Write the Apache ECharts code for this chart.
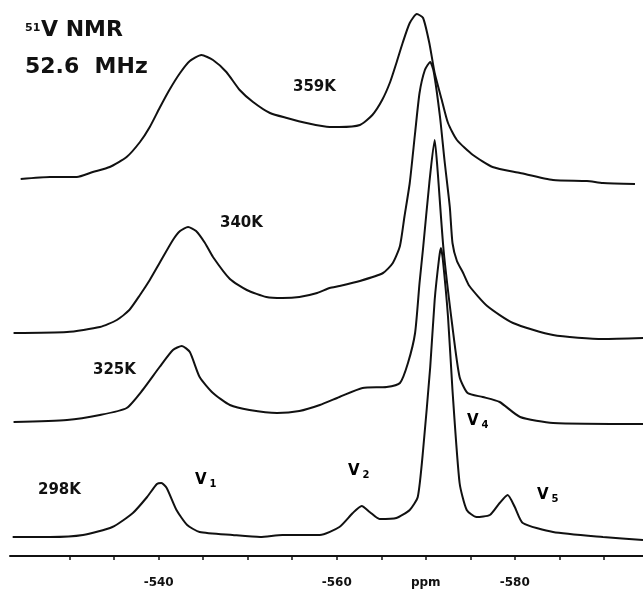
<!DOCTYPE html>
<html>
<head>
<meta charset="utf-8">
<title>51V NMR</title>
<script src="https://cdn.jsdelivr.net/npm/echarts@6/dist/echarts.min.js"></script>
<style>
  html, body { margin: 0; padding: 0; background: #fff; }
  #chart { width: 643px; height: 592px; }
</style>
</head>
<body>
<div id="chart"></div>
<script>
// chemical shift (ppm) and trace height (stacked, in plot units)
const ppm359 = [-524.5, -527.8, -530.8, -532.6, -534.5, -536.4, -537.9, -539.0, -540.1, -541.2, -542.4, -543.5, -544.8, -546.1, -547.6, -549.1, -550.6, -552.5, -554.4, -556.6, -559.2, -560.3, -562.6, -564.0, -565.1, -566.0, -566.7, -567.4, -568.2, -569.0, -569.7, -570.4, -571.0, -571.8, -572.5, -573.5, -575.3, -577.5, -580.6, -584.3, -588.1, -589.9, -593.5]
const val359 = [377, 379, 379, 384, 389, 399, 414, 429, 448, 466, 483, 495, 501, 496, 484, 466, 454, 443, 438, 433, 429, 429, 431, 441, 456, 474, 493, 513, 533, 542, 538, 513, 483, 456, 433, 416, 401, 389, 383, 376, 375, 373, 372]

const ppm340 = [-523.7, -529.7, -533.4, -535.3, -536.7, -537.9, -539.0, -540.1, -541.6, -542.4, -543.3, -544.2, -545.2, -546.1, -548.0, -549.9, -552.1, -553.9, -555.8, -557.8, -559.2, -560.3, -562.6, -565.2, -566.3, -567.1, -567.6, -568.2, -568.8, -569.3, -569.9, -570.5, -570.9, -571.6, -572.1, -572.7, -573.0, -573.5, -574.2, -574.9, -576.9, -579.8, -584.3, -589.9, -594.4]
const val340 = [223, 224, 229, 236, 246, 261, 276, 293, 316, 325, 329, 325, 313, 299, 277, 266, 259, 258, 259, 263, 268, 270, 275, 283, 293, 310, 339, 373, 423, 463, 486, 494, 484, 439, 396, 349, 313, 295, 283, 270, 250, 233, 221, 217, 218]

const ppm325 = [-523.7, -529.7, -533.4, -536.4, -538.2, -540.1, -541.6, -542.6, -543.5, -544.6, -546.1, -548.0, -550.2, -553.3, -555.8, -558.1, -560.3, -562.9, -565.6, -567.1, -568.0, -568.8, -569.3, -569.7, -570.4, -571.0, -571.3, -572.0, -573.0, -573.8, -574.7, -576.4, -578.3, -580.6, -584.3, -594.4]
const val325 = [134, 136, 141, 148, 166, 189, 206, 210, 204, 179, 163, 151, 146, 143, 145, 151, 159, 168, 169, 173, 193, 223, 273, 308, 373, 416, 389, 306, 229, 179, 163, 159, 154, 139, 133, 132]

const ppm298 = [-523.6, -527.8, -531.5, -534.8, -537.1, -538.7, -539.8, -540.3, -540.9, -542.0, -543.2, -544.6, -548.3, -551.4, -553.9, -558.1, -560.3, -561.8, -562.8, -563.7, -564.8, -566.7, -568.2, -569.1, -569.7, -570.5, -571.0, -571.5, -571.7, -571.9, -572.5, -573.0, -573.8, -574.6, -575.7, -577.2, -578.3, -579.2, -580.0, -580.9, -584.3, -589.9, -594.4]
const val298 = [19, 19, 21, 29, 43, 59, 72, 73, 68, 46, 31, 24, 21, 19, 21, 21, 29, 43, 50, 44, 37, 38, 46, 59, 106, 189, 256, 298, 308, 298, 239, 166, 73, 46, 39, 41, 53, 61, 49, 33, 24, 19, 16]

const tickPpm = [-530, -535, -540, -545, -550, -555, -560, -565, -570, -575, -580, -585, -590]
const labelPpm = [-540, -560, -570, -580]

function zipXY(xs, ys) {
  return xs.map((x, i) => [x, ys[i]])
}

const chart = echarts.init(document.getElementById('chart'))

const lineStyle = { color: '#111', width: 2 }
const mkSeries = (name, xs, ys) => ({
  name: name,
  type: 'line',
  data: zipXY(xs, ys),
  showSymbol: false,
  smooth: 0.2,
  lineStyle: lineStyle,
  silent: true
})

const txt = (x, y, text, size) => ({
  type: 'text',
  x: x,
  y: y,
  style: {
    text: text,
    fill: '#111',
    font: 'bold ' + size + 'px "DejaVu Sans", sans-serif',
    textVerticalAlign: 'middle'
  }
})

// V with a subscript index
const sub = (x, y, idx) => ({
  type: 'text',
  x: x,
  y: y,
  style: {
    text: '{m|V}{s|' + idx + '}',
    textVerticalAlign: 'middle',
    rich: {
      m: { fontFamily: 'DejaVu Sans', fontWeight: 'bold', fontSize: 15, color: '#111' },
      s: { fontFamily: 'DejaVu Sans', fontWeight: 'bold', fontSize: 10, color: '#111', padding: [8, 0, 0, 3] }
    }
  }
})

const option = {
  animation: false,
  grid: { left: 10, right: 0, top: 0, bottom: 36 },
  xAxis: {
    type: 'value',
    min: -594.4,
    max: -523.3,
    inverse: true,
    splitLine: { show: false },
    axisLine: { lineStyle: { color: '#111', width: 2 } },
    axisTick: {
      customValues: tickPpm,
      length: 4,
      lineStyle: { color: '#111', width: 1.5 }
    },
    axisLabel: {
      customValues: labelPpm,
      margin: 21,
      color: '#111',
      fontFamily: 'DejaVu Sans',
      fontWeight: 'bold',
      fontSize: 12,
      formatter: v => (v === -570 ? 'ppm' : String(v))
    }
  },
  yAxis: {
    type: 'value',
    min: 0,
    max: 556,
    show: false
  },
  series: [
    mkSeries('359K', ppm359, val359),
    mkSeries('340K', ppm340, val340),
    mkSeries('325K', ppm325, val325),
    mkSeries('298K', ppm298, val298)
  ],
  graphic: [
    txt(25, 28, '51', 11),
    txt(41, 30, 'V NMR', 22),
    txt(25, 67, '52.6  MHz', 22),
    txt(293, 87, '359K', 15),
    txt(220, 223, '340K', 15),
    txt(93, 370, '325K', 15),
    txt(38, 490, '298K', 15),
    sub(195, 480, '1'),
    sub(348, 471, '2'),
    sub(467, 421, '4'),
    sub(537, 495, '5')
  ]
}

chart.setOption(option)
window.addEventListener('resize', () => { chart.resize() })
</script>
</body>
</html>
